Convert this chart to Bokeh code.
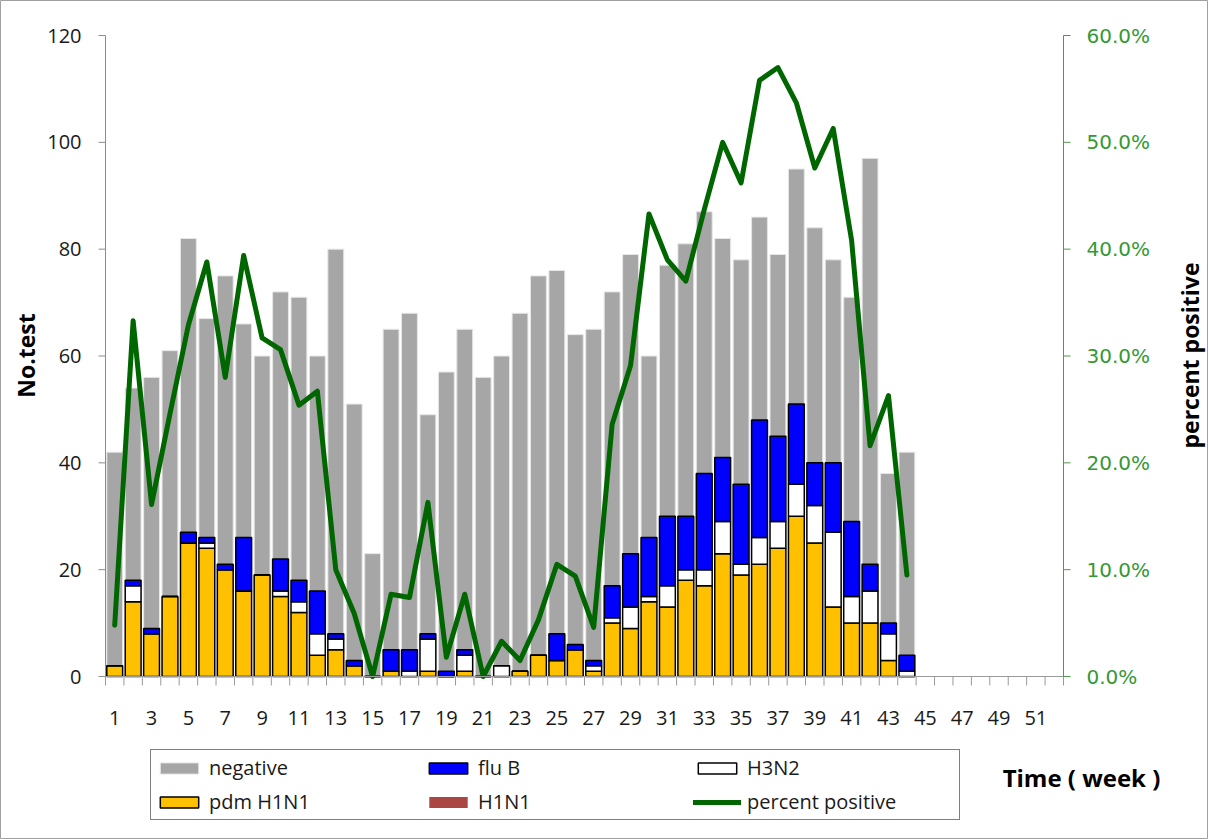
import math
from bokeh.plotting import figure
from bokeh.models import (ColumnDataSource, Range1d, Legend, LegendItem, Label)
from bokeh.core.properties import value
from bokeh.embed import file_html
from bokeh.resources import INLINE

# ---------------- data ----------------
weeks = [1, 2, 3, 4, 5, 6, 7, 8, 9, 10, 11, 12, 13, 14, 15, 16, 17, 18, 19, 20, 21, 22,
         23, 24, 25, 26, 27, 28, 29, 30, 31, 32, 33, 34, 35, 36, 37, 38, 39, 40, 41, 42, 43, 44]

negative = [42, 54, 56, 61, 82, 67, 75, 66, 60, 72, 71, 60, 80, 51, 23, 65, 68, 49, 57, 65, 56, 60,
            68, 75, 76, 64, 65, 72, 79, 60, 77, 81, 87, 82, 78, 86, 79, 95, 84, 78, 71, 97, 38, 42]

pdm_h1n1 = [2, 14, 8, 15, 25, 24, 20, 16, 19, 15, 12, 4, 5, 2, 0, 1, 0, 1, 0, 1, 0, 0,
            1, 4, 3, 5, 1, 10, 9, 14, 13, 18, 17, 23, 19, 21, 24, 30, 25, 13, 10, 10, 3, 0]

h1n1 = [0, 0, 0, 0, 0, 0, 0, 0, 0, 0, 0, 0, 0, 0, 0, 0, 0, 0, 0, 0, 0, 0,
        0, 0, 0, 0, 0, 0, 0, 0, 0, 0, 0, 0, 0, 0, 0, 0, 0, 0, 0, 0, 0, 0]

h3n2 = [0, 3, 0, 0, 0, 1, 0, 0, 0, 1, 2, 4, 2, 0, 0, 0, 1, 6, 0, 3, 0, 2,
        0, 0, 0, 0, 1, 1, 4, 1, 4, 2, 3, 6, 2, 5, 5, 6, 7, 14, 5, 6, 5, 1]

flu_b = [0, 1, 1, 0, 2, 1, 1, 10, 0, 6, 4, 8, 1, 1, 0, 4, 4, 1, 1, 1, 0, 0,
         0, 0, 5, 1, 1, 6, 10, 11, 13, 10, 18, 12, 15, 22, 16, 15, 8, 13, 14, 5, 2, 3]

percent_positive = [4.8, 33.3, 16.1, 24.6, 32.9, 38.8, 28.0, 39.4, 31.7, 30.6, 25.4, 26.7,
                    10.0, 5.9, 0.0, 7.7, 7.4, 16.3, 1.8, 7.7, 0.0, 3.3, 1.5, 5.3, 10.5, 9.4,
                    4.6, 23.6, 29.1, 43.3, 39.0, 37.0, 43.7, 50.0, 46.2, 55.8, 57.0, 53.7,
                    47.6, 51.3, 40.8, 21.6, 26.3, 9.5]

week_labels = [1, 3, 5, 7, 9, 11, 13, 15, 17, 19, 21, 23, 25, 27, 29, 31, 33, 35, 37, 39,
               41, 43, 45, 47, 49, 51]
week_bounds = [w + 0.5 for w in range(0, 53)]
count_ticks = [0, 20, 40, 60, 80, 100, 120]
pct_ticks = [0, 10, 20, 30, 40, 50, 60]

# ---------------- page geometry (pixels) ----------------
W, H = 1208, 839
PLOT_L, PLOT_R, PLOT_T, PLOT_B = 105, 1063, 35, 676
px_week = (PLOT_R - PLOT_L) / (week_bounds[-1] - week_bounds[0])
px_count = (PLOT_B - PLOT_T) / (count_ticks[-1] - count_ticks[0])
px_pct = (PLOT_B - PLOT_T) / (pct_ticks[-1] - pct_ticks[0])

x_rng = Range1d(week_bounds[0] - PLOT_L / px_week, week_bounds[-1] + (W - PLOT_R) / px_week)
y_rng = Range1d(count_ticks[0] - (H - PLOT_B) / px_count, count_ticks[-1] + PLOT_T / px_count)
pct_rng = Range1d(pct_ticks[0] - (H - PLOT_B) / px_pct, pct_ticks[-1] + PLOT_T / px_pct)

FONT = "Open Sans"
AX_GRAY = "#8c8c8c"
AX_GREEN = "#4c994c"
TXT_GREEN = "#339933"

src = ColumnDataSource(dict(week=weeks, negative=negative, pdm=pdm_h1n1, h1n1=h1n1,
                            h3n2=h3n2, flub=flu_b, pct=percent_positive))

p = figure(title=None, frame_width=W, frame_height=H, x_range=x_rng, y_range=y_rng,
           x_axis_type=None, y_axis_type=None,
           min_border=0, min_border_left=0, min_border_right=0,
           min_border_top=0, min_border_bottom=0,
           output_backend="svg", toolbar_location=None)
p.grid.visible = False
p.outline_line_color = "#a0a0a0"
p.background_fill_color = "white"
p.border_fill_color = "white"
p.extra_y_ranges = {"pct": pct_rng}

# bars
gray = p.vbar(x="week", top="negative", width=0.86, source=src,
              fill_color="#a6a6a6", line_color="#e6e6e6", line_width=1)
stack = p.vbar_stack(["pdm", "h1n1", "h3n2", "flub"], x="week", width=0.86, source=src,
                     fill_color=["#ffc000", "#aa4643", "#ffffff", "#0000ff"],
                     line_color=["#000000", "#aa4643", "#000000", "#000000"],
                     line_alpha=[1, 0, 1, 1], line_width=1.5)
line = p.line("week", "pct", source=src, y_range_name="pct",
              line_color="#006600", line_width=5, line_join="round", line_cap="round")

# ---- x axis (weeks) ----
p.segment(x0=[week_bounds[0]], y0=[count_ticks[0]], x1=[week_bounds[-1]], y1=[count_ticks[0]],
          line_color="#999999", line_width=1)
p.ray(x=week_bounds, y=[count_ticks[0]] * len(week_bounds), length=9, length_units="screen",
      angle=-math.pi / 2, line_color="#999999", line_width=1)
p.text(x=week_labels, y=[count_ticks[0]] * len(week_labels), text=[str(w) for w in week_labels],
       y_offset=41, text_align="center", text_baseline="middle",
       text_font=value(FONT), text_font_size=value("20px"), text_color="#1a1a1a")

# ---- left axis (No.test) ----
p.segment(x0=[week_bounds[0]], y0=[count_ticks[0]], x1=[week_bounds[0]], y1=[count_ticks[-1]],
          line_color=AX_GRAY, line_width=1)
p.ray(x=[week_bounds[0]] * len(count_ticks), y=count_ticks, length=7, length_units="screen",
      angle=math.pi, line_color=AX_GRAY, line_width=1)
p.text(x=[week_bounds[0]] * len(count_ticks), y=count_ticks, text=[str(t) for t in count_ticks],
       x_offset=-24, text_align="right", text_baseline="middle",
       text_font=value(FONT), text_font_size=value("20px"), text_color="#1a1a1a")

# ---- right axis (percent positive) ----
p.segment(x0=[week_bounds[-1]], y0=[pct_ticks[0]], x1=[week_bounds[-1]], y1=[pct_ticks[-1]],
          line_color=AX_GREEN, line_width=1, y_range_name="pct")
p.ray(x=[week_bounds[-1]] * len(pct_ticks), y=pct_ticks, length=7, length_units="screen",
      angle=0, line_color=AX_GREEN, line_width=1, y_range_name="pct")
p.text(x=[week_bounds[-1]] * len(pct_ticks), y=pct_ticks, text=["%.1f%%" % t for t in pct_ticks],
       x_offset=23, text_align="left", text_baseline="middle", y_range_name="pct",
       text_font=value("DejaVu Sans"), text_font_size=value("20px"), text_color=TXT_GREEN)

# ---- titles ----
p.add_layout(Label(x=25, y=H - 355, x_units="screen", y_units="screen", text="No.test",
                   angle=math.pi / 2, text_align="center", text_baseline="middle",
                   text_font=FONT, text_font_style="bold", text_font_size="23px",
                   text_color="black"))
p.add_layout(Label(x=1189, y=H - 355, x_units="screen", y_units="screen",
                   text="percent positive", angle=math.pi / 2, text_align="center",
                   text_baseline="middle", text_font=FONT, text_font_style="bold",
                   text_font_size="23px", text_color="black"))
p.add_layout(Label(x=1081, y=H - 777, x_units="screen", y_units="screen", text="Time ( week )",
                   text_align="center", text_baseline="middle",
                   text_font=FONT, text_font_style="bold", text_font_size="24px",
                   text_color="black"))

# ---- legend ----
legend = Legend(items=[
    LegendItem(label="negative", renderers=[gray]),
    LegendItem(label="flu B", renderers=[stack[3]]),
    LegendItem(label="H3N2", renderers=[stack[2]]),
    LegendItem(label="pdm H1N1", renderers=[stack[0]]),
    LegendItem(label="H1N1", renderers=[stack[1]]),
    LegendItem(label="percent positive", renderers=[line]),
], location=(150, H - 820), orientation="horizontal", ncols=3,
    padding=4, spacing=7, glyph_width=48, glyph_height=14, label_standoff=6,
    label_width=208, label_text_font=FONT, label_text_font_size="20px",
    label_text_color="#1a1a1a", border_line_color="#000000", border_line_width=1,
    background_fill_color="white", background_fill_alpha=1, margin=0)
p.add_layout(legend)

open("out.html", "w").write(file_html(p, INLINE))
